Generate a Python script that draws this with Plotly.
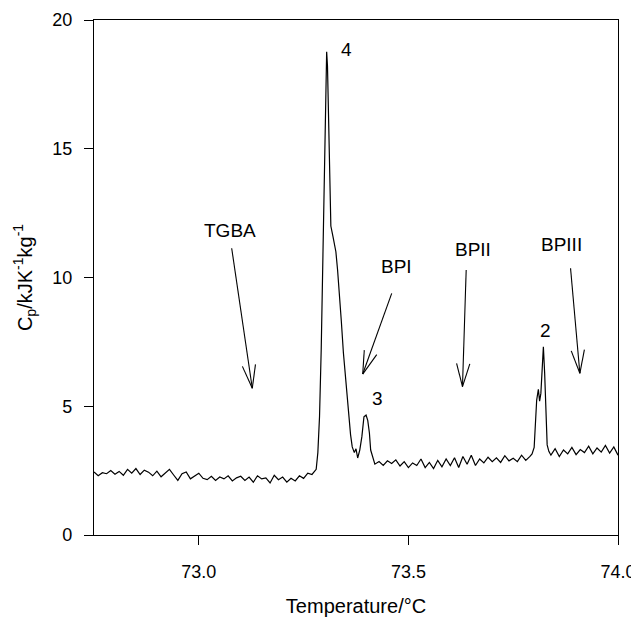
"""Heat capacity scan across the TGBA / blue phase transitions."""

from __future__ import annotations

import math

import plotly.graph_objects as go

# temperature (deg C) and heat capacity (kJ K^-1 kg^-1)
temperature = [
    72.75, 72.76, 72.77, 72.78, 72.79, 72.80, 72.81, 72.82, 72.83, 72.84,
    72.85, 72.86, 72.87, 72.88, 72.89, 72.90, 72.91, 72.92, 72.93, 72.94,
    72.95, 72.96, 72.97, 72.98, 72.99, 73.00, 73.01, 73.02, 73.03, 73.04,
    73.05, 73.06, 73.07, 73.08, 73.09, 73.10, 73.11, 73.12, 73.13, 73.14,
    73.15, 73.16, 73.17, 73.18, 73.19, 73.20, 73.21, 73.22, 73.23, 73.24,
    73.25, 73.26, 73.27, 73.275,
    73.280, 73.284, 73.288, 73.292, 73.296, 73.299, 73.302, 73.305, 73.307,
    73.309, 73.312, 73.315, 73.320, 73.327, 73.331, 73.335, 73.340, 73.345,
    73.351, 73.357, 73.362, 73.366, 73.371, 73.375, 73.379, 73.384, 73.389,
    73.394, 73.399, 73.403, 73.407, 73.410, 73.415,
    73.42, 73.43, 73.44, 73.45, 73.46, 73.47, 73.48, 73.49, 73.50, 73.51,
    73.52, 73.53, 73.54, 73.55, 73.56, 73.57, 73.58, 73.59, 73.60, 73.61,
    73.62, 73.63, 73.64, 73.65, 73.66, 73.67, 73.68, 73.69, 73.70, 73.71,
    73.72, 73.73, 73.74, 73.75, 73.76, 73.77, 73.78, 73.79, 73.795,
    73.800, 73.803, 73.806, 73.810, 73.813, 73.816, 73.819, 73.822, 73.825,
    73.828, 73.831, 73.835,
    73.84, 73.85, 73.86, 73.87, 73.88, 73.89, 73.90, 73.91, 73.92, 73.93,
    73.94, 73.95, 73.96, 73.97, 73.98, 73.99, 74.00,
]
heat_capacity = [
    2.45, 2.30, 2.42, 2.38, 2.50, 2.36, 2.47, 2.32, 2.55, 2.40,
    2.58, 2.35, 2.52, 2.44, 2.30, 2.48, 2.26, 2.40, 2.55, 2.33,
    2.12, 2.38, 2.45, 2.18, 2.30, 2.40, 2.20, 2.15, 2.28, 2.12,
    2.25, 2.18, 2.30, 2.10, 2.22, 2.28, 2.12, 2.25, 2.05, 2.30,
    2.18, 2.22, 2.02, 2.32, 2.15, 2.25, 2.05, 2.20, 2.10, 2.30,
    2.20, 2.40, 2.35, 2.45,
    2.55, 3.2, 4.6, 7.2, 10.5, 12.4, 15.8, 18.77, 18.2,
    16.5, 13.5, 12.0, 11.6, 11.0, 10.3, 9.5, 8.3, 7.07,
    5.9, 4.97, 3.9, 3.42, 3.2, 3.35, 2.99, 3.3, 3.82,
    4.59, 4.66, 4.45, 3.96, 3.3, 3.04,
    2.75, 2.85, 2.70, 2.88, 2.78, 2.92, 2.68, 2.85, 2.62, 2.80,
    2.70, 2.95, 2.62, 2.82, 2.58, 2.90, 2.65, 2.95, 2.70, 3.00,
    2.62, 3.05, 2.75, 3.10, 2.70, 2.95, 2.80, 3.02, 2.85, 3.00,
    2.82, 3.08, 2.88, 2.98, 2.85, 3.10, 2.90, 3.05, 3.15,
    3.4, 4.2, 5.24, 5.66, 5.2, 5.5, 6.5, 7.31, 6.3,
    4.8, 3.5, 3.25,
    3.10, 3.35, 3.05, 3.30, 3.15, 3.40, 3.12, 3.32, 3.20, 3.45,
    3.15, 3.38, 3.22, 3.48, 3.18, 3.42, 3.10,
]

# phase labels and where their arrows point
phase_names = ["TGBA", "BPI", "BPII", "BPIII"]
phase_label_t = [73.074, 73.472, 73.655, 73.866]
phase_label_cp = [11.84, 10.42, 11.09, 11.30]
phase_tip_t = [73.1276, 73.391, 73.629, 73.909]
phase_tip_cp = [5.70, 6.25, 5.76, 6.28]

# peak numbers
peak_names = ["4", "3", "2"]
peak_label_t = [73.353, 73.427, 73.828]
peak_label_cp = [18.86, 5.31, 7.96]

FONT = "Liberation Sans, Arial, sans-serif"
# arrow tails as pixel offsets from the tip (screen y points up here)
ARROW_TAILS = [(-20.6, 140), (29, 80.7), (3.7, 116.7), (-9.3, 105)]
HEAD_LEN = 24
HEAD_ANGLE = math.radians(16)


def arrow_shapes(tip_x, tip_y, tail):
    """Shaft and open V head as pixel-sized line shapes anchored at the tip."""
    ax, ay = tail
    norm = math.hypot(ax, ay)
    ux, uy = ax / norm, ay / norm
    ends = [(ax, ay)]
    for sign in (1, -1):
        c, s = math.cos(sign * HEAD_ANGLE), math.sin(sign * HEAD_ANGLE)
        ends.append(((ux * c - uy * s) * HEAD_LEN, (ux * s + uy * c) * HEAD_LEN))
    return [
        dict(type="line", xref="x", yref="y",
             xsizemode="pixel", ysizemode="pixel",
             xanchor=tip_x, yanchor=tip_y,
             x0=0, y0=0, x1=dx, y1=dy,
             line={"color": "black", "width": 1.1})
        for dx, dy in ends
    ]


def heat_capacity_chart() -> go.Figure:
    fig = go.Figure()
    fig.add_trace(
        go.Scatter(
            x=temperature,
            y=heat_capacity,
            mode="lines",
            line={"color": "black", "width": 1.2},
            showlegend=False,
        )
    )

    annotations = []
    for name, tx, ty in zip(phase_names + peak_names,
                            phase_label_t + peak_label_t,
                            phase_label_cp + peak_label_cp):
        annotations.append(
            dict(x=tx, y=ty, text=name, showarrow=False,
                 font={"size": 19, "color": "black", "family": FONT})
        )

    shapes = []
    for tail, tx, ty in zip(ARROW_TAILS, phase_tip_t, phase_tip_cp):
        shapes.extend(arrow_shapes(tx, ty, tail))

    axis_style = dict(
        showline=True,
        linecolor="black",
        linewidth=1.2,
        mirror=True,
        ticks="outside",
        ticklen=9,
        tickcolor="black",
        showgrid=False,
        zeroline=False,
        automargin=False,
        tickfont={"size": 18, "color": "black", "family": FONT},
    )
    # the page body adds an 8px offset, so the figure is 8px smaller
    fig.update_layout(
        width=631,
        height=612,
        margin={"l": 86, "r": 21, "t": 12, "b": 85},
        paper_bgcolor="white",
        plot_bgcolor="white",
        font={"family": FONT, "color": "black"},
        annotations=annotations,
        shapes=shapes,
        xaxis=dict(
            axis_style,
            range=[72.75, 74.0],
            tickvals=[73.0, 73.5, 74.0],
            tickformat=".1f",
            ticklabelstandoff=11,
            title={"text": "Temperature/°C", "font": {"size": 20}, "standoff": 18},
        ),
        yaxis=dict(
            axis_style,
            range=[0, 20],
            tickvals=[0, 5, 10, 15, 20],
            ticklabelstandoff=8,
            title={
                "text": "C<sub>p</sub>/kJK<sup>-1</sup>kg<sup>-1</sup>",
                "font": {"size": 20},
                "standoff": 14,
            },
        ),
    )
    return fig


fig = heat_capacity_chart()
fig.write_html("out.html")
